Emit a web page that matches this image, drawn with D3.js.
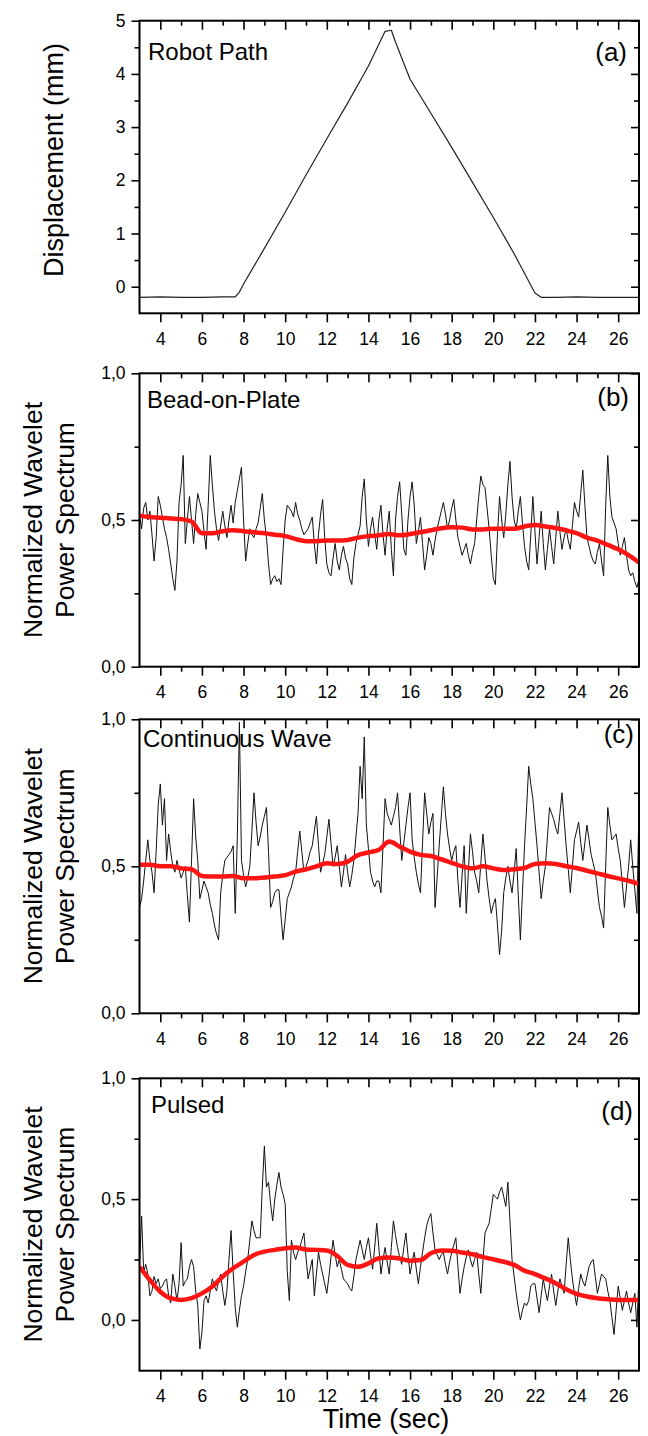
<!DOCTYPE html>
<html>
<head>
<meta charset="utf-8">
<script src="https://cdn.jsdelivr.net/npm/d3@7/dist/d3.min.js"></script>
<style>
body{margin:0;background:#fff;}
svg text{font-family:Arial,"Liberation Sans",Helvetica,sans-serif;fill:#000;}
</style>
</head>
<body>
<svg id="chart" width="648" height="1436"></svg>
<script>
// x axis
var xMajor = [4, 6, 8, 10, 12, 14, 16, 18, 20, 22, 24, 26];
var xMinor = [5, 7, 9, 11, 13, 15, 17, 19, 21, 23, 25];

// panel texts
var panelNames = ['Robot Path', 'Bead-on-Plate', 'Continuous Wave', 'Pulsed'];
var panelTags = ['(a)', '(b)', '(c)', '(d)'];

// (a) robot path, mm
var robotTime = [3, 4, 5, 6, 7, 7.6, 7.8, 8, 9, 10, 11, 12, 13, 14, 14.8, 15.1, 15.3, 15.6, 16, 17, 18, 19, 20, 21, 22, 22.3, 23, 24, 25, 26, 27];
var robotDisp = [-.2, -.19, -.2, -.2, -.19, -.19, -.1, .05, .72, 1.4, 2.1, 2.78, 3.45, 4.15, 4.8, 4.82, 4.6, 4.3, 3.9, 3.26, 2.62, 1.96, 1.3, .62, -.12, -.2, -.2, -.19, -.2, -.2, -.2];

// wavelet traces, one value every 0.1 s from 3 s to 27 s
var beadNoise = [
  .52,.47,.54,.56,.50,.53,.45,.36,.44,.58,
  .55,.51,.47,.44,.40,.35,.30,.26,.36,.56,
  .62,.72,.42,.50,.58,.50,.42,.52,.59,.56,
  .53,.46,.40,.55,.72,.62,.53,.47,.43,.48,
  .53,.48,.44,.50,.55,.49,.56,.60,.64,.68,
  .50,.36,.42,.47,.45,.44,.47,.49,.54,.59,
  .50,.44,.35,.28,.30,.31,.29,.30,.28,.40,
  .50,.55,.54,.53,.51,.56,.52,.50,.47,.45,
  .46,.47,.49,.51,.42,.35,.45,.52,.57,.44,
  .35,.32,.31,.37,.42,.36,.33,.38,.41,.37,
  .35,.30,.28,.37,.42,.45,.48,.58,.64,.50,
  .41,.47,.51,.45,.40,.50,.55,.45,.38,.47,
  .53,.40,.31,.50,.58,.63,.52,.40,.38,.50,
  .58,.63,.55,.42,.46,.51,.42,.33,.38,.44,
  .42,.38,.43,.47,.50,.53,.56,.52,.47,.50,
  .54,.57,.50,.44,.41,.38,.40,.42,.38,.35,
  .39,.42,.50,.58,.65,.62,.61,.54,.47,.38,
  .30,.28,.45,.58,.50,.44,.52,.62,.70,.58,
  .50,.47,.53,.58,.49,.41,.36,.33,.45,.58,
  .46,.35,.44,.53,.42,.33,.40,.47,.41,.35,
  .44,.53,.46,.40,.44,.47,.43,.40,.48,.56,
  .53,.51,.59,.67,.55,.44,.41,.38,.36,.35,
  .39,.42,.36,.31,.55,.72,.58,.51,.49,.47,
  .42,.38,.41,.44,.38,.33,.31,.32,.29,.27,
  .30
];
var cwNoise = [
  .36,.39,.45,.52,.59,.52,.48,.41,.55,.71,
  .78,.64,.73,.52,.61,.55,.50,.48,.52,.49,
  .46,.48,.50,.40,.31,.52,.73,.60,.52,.39,
  .42,.45,.43,.41,.37,.34,.30,.27,.25,.41,
  .47,.52,.53,.54,.55,.57,.34,.60,.99,.52,
  .47,.43,.46,.50,.62,.75,.65,.57,.60,.64,
  .67,.70,.55,.36,.38,.41,.42,.42,.33,.25,
  .32,.39,.41,.43,.46,.48,.55,.62,.55,.48,
  .50,.52,.55,.57,.62,.67,.57,.48,.51,.54,
  .60,.66,.58,.50,.53,.57,.50,.43,.48,.54,
  .48,.43,.47,.52,.60,.68,.84,.73,.94,.64,
  .56,.48,.45,.43,.45,.45,.41,.57,.73,.68,
  .66,.64,.67,.70,.75,.63,.52,.58,.64,.70,
  .75,.59,.53,.48,.44,.41,.58,.75,.68,.61,
  .65,.68,.36,.46,.57,.67,.77,.68,.61,.56,
  .52,.55,.57,.45,.36,.47,.57,.34,.48,.61,
  .55,.48,.45,.41,.51,.61,.53,.45,.39,.34,
  .37,.39,.30,.20,.28,.41,.46,.50,.45,.41,
  .48,.56,.40,.25,.41,.57,.70,.84,.78,.73,
  .65,.57,.48,.39,.45,.50,.60,.70,.68,.66,
  .63,.61,.68,.75,.66,.57,.49,.41,.50,.59,
  .62,.65,.58,.52,.58,.64,.59,.54,.51,.48,
  .42,.36,.33,.29,.50,.70,.64,.59,.60,.61,
  .56,.52,.44,.36,.43,.50,.59,.50,.42,.34,
  .71
];
var pulsedNoise = [
  .22,.43,.20,.23,.19,.10,.12,.18,.15,.17,
  .13,.14,.16,.17,.10,.07,.19,.14,.08,.15,
  .32,.14,.16,.17,.22,.25,.22,.12,.06,-.12,
  -.05,.08,.10,.07,.12,.17,.14,.12,.16,.19,
  .12,.06,.12,.25,.37,.20,.05,-.03,.04,.10,
  .14,.20,.25,.33,.41,.37,.34,.34,.34,.55,
  .72,.55,.57,.48,.41,.50,.56,.61,.55,.52,
  .48,.20,.08,.33,.28,.25,.28,.30,.33,.36,
  .26,.17,.21,.25,.10,.19,.28,.23,.19,.15,
  .11,.18,.26,.33,.27,.22,.25,.21,.17,.16,
  .15,.13,.12,.18,.25,.29,.33,.29,.25,.30,
  .34,.27,.21,.30,.40,.30,.19,.25,.30,.24,
  .19,.30,.41,.35,.30,.26,.23,.30,.36,.27,
  .19,.24,.28,.21,.15,.22,.28,.34,.39,.42,
  .44,.36,.29,.27,.25,.27,.28,.23,.19,.24,
  .28,.31,.34,.22,.11,.17,.22,.26,.29,.25,
  .22,.25,.28,.19,.11,.24,.36,.38,.40,.46,
  .52,.51,.50,.53,.55,.51,.47,.57,.41,.25,
  .18,.11,.05,.00,.04,.07,.06,.08,.14,.15,
  .15,.09,.03,.10,.17,.12,.08,.14,.19,.12,
  .06,.12,.17,.14,.11,.23,.34,.25,.17,.11,
  .06,.13,.19,.16,.14,.18,.22,.24,.25,.18,
  .11,.15,.19,.18,.17,.12,.08,.01,-.06,.04,
  .14,.09,.04,.08,.12,.07,.03,.07,.11,-.03,
  .19
];

// smoothed trends (red), one value every 0.5 s from 3 s to 27 s
var beadTrend = [.515,.51,.508,.505,.503,.495,.455,.455,.462,.465,.462,.458,.455,.45,.445,.435,.428,.428,.43,.43,.432,.44,.445,.448,.452,.448,.452,.458,.465,.472,.475,.474,.468,.468,.47,.47,.47,.478,.483,.478,.473,.465,.455,.44,.43,.415,.40,.38,.355];
var cwTrend = [.505,.505,.50,.50,.493,.49,.467,.465,.465,.467,.459,.459,.462,.465,.47,.482,.49,.50,.51,.508,.516,.538,.547,.556,.584,.567,.55,.539,.535,.524,.512,.50,.493,.50,.493,.487,.49,.494,.508,.51,.508,.50,.494,.485,.476,.467,.459,.451,.44];
var pulsedTrend = [.22,.165,.117,.09,.083,.09,.11,.138,.18,.214,.241,.269,.283,.29,.297,.30,.292,.29,.287,.265,.228,.22,.234,.255,.258,.254,.245,.248,.276,.287,.286,.279,.272,.26,.251,.241,.228,.204,.19,.172,.152,.127,.108,.097,.09,.086,.083,.083,.083];

var noiseTime = d3.range(241).map(i => 3 + i * 0.1);
var trendTime = d3.range(49).map(i => 3 + i * 0.5);

var FONT = 'Arial, "Liberation Sans", Helvetica, sans-serif';
var svg = d3.select('#chart');
var X_LEFT = 139.5, X_RIGHT = 639;
var x = d3.scaleLinear().domain([3, 27]).range([X_LEFT, X_RIGHT]);

var commaFmt = d => d3.format('.1f')(d).replace('.', ',');

var panels = [
    {top: 20.7, bottom: 313.3, domain: [-0.5, 5], major: [0, 1, 2, 3, 4, 5], minor: [0.5, 1.5, 2.5, 3.5, 4.5], fmt: d => d,
     nameY: 60, tagX: 627, tagY: 61},
    {top: 373.3, bottom: 666.7, domain: [0, 1], major: [0, 0.5, 1], minor: [0.25, 0.75], fmt: commaFmt,
     nameY: 408, tagX: 629, tagY: 406},
    {top: 719.3, bottom: 1013.3, domain: [0, 1], major: [0, 0.5, 1], minor: [0.25, 0.75], fmt: commaFmt,
     nameY: 747, tagX: 634, tagY: 743},
    {top: 1078.3, bottom: 1370.7, domain: [-0.21, 1], major: [0, 0.5, 1], minor: [0.25, 0.75], fmt: commaFmt,
     nameY: 1113, tagX: 633, tagY: 1120}
];
var nameX = [148, 147, 143, 151];

function styleAxis(g) {
    g.select('.domain').remove();
    g.selectAll('.tick line').attr('stroke', '#000').attr('stroke-width', 1.6);
    g.selectAll('.tick text').attr('font-size', 17.5).attr('fill', '#000')
        .attr('font-family', FONT);
}

function drawPanel(p, i) {
    var y = d3.scaleLinear().domain(p.domain).range([p.bottom, p.top]);
    var g = svg.append('g').attr('class', 'panel');

    g.append('clipPath').attr('id', 'clip' + i)
        .append('rect')
        .attr('x', X_LEFT).attr('y', p.top)
        .attr('width', X_RIGHT - X_LEFT).attr('height', p.bottom - p.top);

    var line = d3.line().x(d => x(d[0])).y(d => y(d[1]));
    var plot = g.append('g').attr('clip-path', 'url(#clip' + i + ')');

    if (i === 0) {
        plot.append('path')
            .datum(d3.zip(robotTime, robotDisp))
            .attr('fill', 'none').attr('stroke', '#222').attr('stroke-width', 1.2)
            .attr('stroke-linejoin', 'round')
            .attr('d', line);
    } else {
        var noise = [beadNoise, cwNoise, pulsedNoise][i - 1];
        var trend = [beadTrend, cwTrend, pulsedTrend][i - 1];
        plot.append('path')
            .datum(d3.zip(noiseTime, noise))
            .attr('fill', 'none').attr('stroke', '#111').attr('stroke-width', 1)
            .attr('stroke-linejoin', 'round')
            .attr('d', line);
        plot.append('path')
            .datum(d3.zip(trendTime, trend))
            .attr('fill', 'none').attr('stroke', '#ff1414').attr('stroke-width', 4.5)
            .attr('stroke-linejoin', 'round')
            .attr('d', line.curve(d3.curveMonotoneX));
    }

    // bottom: outward ticks with labels
    g.append('g').attr('transform', 'translate(0,' + p.bottom + ')')
        .call(d3.axisBottom(x).tickValues(xMajor).tickSize(9).tickPadding(10).tickFormat(d3.format('d')))
        .call(styleAxis);
    g.append('g').attr('transform', 'translate(0,' + p.bottom + ')')
        .call(d3.axisBottom(x).tickValues(xMinor).tickSize(5).tickFormat(''))
        .call(styleAxis);
    // top: inward ticks
    g.append('g').attr('transform', 'translate(0,' + p.top + ')')
        .call(d3.axisTop(x).tickValues(xMajor).tickSize(-9).tickFormat(''))
        .call(styleAxis);
    g.append('g').attr('transform', 'translate(0,' + p.top + ')')
        .call(d3.axisTop(x).tickValues(xMinor).tickSize(-5).tickFormat(''))
        .call(styleAxis);
    // left: outward ticks with labels
    g.append('g').attr('transform', 'translate(' + X_LEFT + ',0)')
        .call(d3.axisLeft(y).tickValues(p.major).tickSize(8).tickPadding(6).tickFormat(p.fmt))
        .call(styleAxis);
    g.append('g').attr('transform', 'translate(' + X_LEFT + ',0)')
        .call(d3.axisLeft(y).tickValues(p.minor).tickSize(5).tickFormat(''))
        .call(styleAxis);
    // right: inward ticks
    g.append('g').attr('transform', 'translate(' + X_RIGHT + ',0)')
        .call(d3.axisRight(y).tickValues(p.major).tickSize(-8).tickFormat(''))
        .call(styleAxis);
    g.append('g').attr('transform', 'translate(' + X_RIGHT + ',0)')
        .call(d3.axisRight(y).tickValues(p.minor).tickSize(-5).tickFormat(''))
        .call(styleAxis);

    g.append('rect')
        .attr('x', X_LEFT).attr('y', p.top)
        .attr('width', X_RIGHT - X_LEFT).attr('height', p.bottom - p.top)
        .attr('fill', 'none').attr('stroke', '#000').attr('stroke-width', 2);

    g.append('text').attr('x', nameX[i]).attr('y', p.nameY)
        .attr('font-size', 24).text(panelNames[i]);
    g.append('text').attr('x', p.tagX).attr('y', p.tagY)
        .attr('text-anchor', 'end').attr('font-size', 26).text(panelTags[i]);

    // y title
    var cy = (p.top + p.bottom) / 2;
    if (i === 0) {
        g.append('text')
            .attr('transform', 'translate(63,' + (cy - 7) + ') rotate(-90)')
            .attr('text-anchor', 'middle').attr('font-size', 27)
            .text('Displacement (mm)');
    } else {
        g.append('text')
            .attr('transform', 'translate(42,' + cy + ') rotate(-90)')
            .attr('text-anchor', 'middle').attr('font-size', 26.5)
            .text('Normalized Wavelet');
        g.append('text')
            .attr('transform', 'translate(74,' + cy + ') rotate(-90)')
            .attr('text-anchor', 'middle').attr('font-size', 26.5)
            .text('Power Spectrum');
    }
}

panels.forEach(drawPanel);

svg.append('text')
    .attr('x', 386).attr('y', 1428)
    .attr('text-anchor', 'middle').attr('font-size', 27)
    .text('Time (sec)');
</script>
</body>
</html>
